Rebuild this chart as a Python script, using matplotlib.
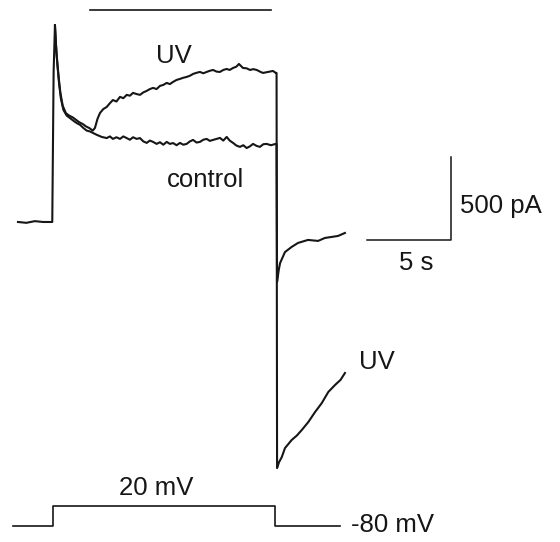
import matplotlib
matplotlib.use("Agg")
import numpy as np
import matplotlib.pyplot as plt

plt.rcParams['font.family'] = ['Liberation Sans', 'DejaVu Sans']

# Current traces (time in s, current in pA)
shared_t = [0.00, 0.50, 1.00, 1.50, 2.04, 2.12, 2.20]
shared_i = [0, -5, 5, 0, 0, 900, 1185]

ctrl_t = [2.28, 2.36, 2.45, 2.55, 2.70, 2.90, 3.10, 3.29, 3.50, 3.69, 3.90, 4.09,
          4.28, 4.48,
          4.68, 4.98, 5.28, 5.47, 5.65, 5.86, 6.07, 6.27, 6.47, 6.66, 6.85, 7.06,
          7.26, 7.46, 7.66, 7.85, 8.04, 8.25, 8.45, 8.65, 8.85, 9.04, 9.23, 9.44,
          9.64, 9.84, 10.04, 10.23, 10.42, 10.63, 10.83, 11.03, 11.23, 11.42, 11.61,
          11.82, 12.02, 12.22, 12.42, 12.60, 12.80, 13.00, 13.21, 13.41, 13.61, 13.80,
          13.99, 14.20, 14.40, 14.60, 14.80, 15.05, 15.34, 15.39,
          15.42, 15.52, 15.60, 15.89, 16.29, 16.67, 17.26, 17.86, 18.27, 18.67,
          19.05, 19.46]
ctrl_i = [1030, 930, 830, 745, 675, 640, 625, 610, 595, 585, 565, 550,
          545, 535,
          525, 512, 505, 515, 500, 510, 500, 515, 505, 495, 510, 500,
          505, 485, 476, 490, 482, 470, 480, 465, 482, 470, 475, 462,
          476, 465, 470, 485, 494, 478, 482, 495, 500, 488, 494,
          500, 506, 490, 512, 490, 476, 460, 452, 462, 445, 455,
          470, 458, 452, 468, 470, 462, 470, 470,
          -361, -289, -247, -181, -150, -126, -108, -114, -96, -90,
          -84, -66]

uv_t = [2.26, 2.33, 2.42, 2.52, 2.66, 2.85, 3.05, 3.25, 3.45, 3.65, 3.85, 4.05,
        4.25, 4.45, 4.58,
        4.73, 4.88, 5.08, 5.28, 5.47, 5.65, 5.86, 6.07, 6.27, 6.47, 6.66,
        6.85, 7.06, 7.26, 7.46, 7.66, 7.85, 8.04, 8.25, 8.45, 8.65, 8.85, 9.04,
        9.23, 9.44, 9.64, 9.84, 10.04, 10.23, 10.42, 10.63, 10.83, 11.03, 11.23,
        11.42, 11.61, 11.82, 12.02, 12.22, 12.42, 12.60, 12.80, 13.00, 13.15, 13.39,
        13.60, 13.81, 14.00, 14.21, 14.40, 14.58, 14.88, 15.18, 15.34, 15.39,
        15.42, 15.54, 15.70, 15.89, 16.29, 16.60, 16.89, 17.28, 17.68, 18.08,
        18.47, 18.87, 19.20, 19.46]
uv_i = [1070, 970, 870, 780, 700, 655, 640, 630, 615, 600, 590, 575,
        565, 550, 566,
        620, 656, 680, 692, 715, 734, 725, 753, 745, 765, 760,
        777, 770, 765, 780, 789, 800, 807, 800, 819, 825, 837, 830,
        843, 855, 861, 868, 873, 880, 891, 898, 903, 895, 903,
        910, 915, 905, 903, 915, 921, 915, 927, 935, 951, 927,
        925, 915, 920, 915, 905, 897, 903, 909, 897, 897,
        -1481, -1445, -1415, -1361, -1312, -1285, -1252, -1204, -1144, -1090,
        -1023, -981, -950, -909]

# Voltage protocol (mV)
volt_t = [-0.30, 2.08, 2.08, 15.30, 15.30, 19.17]
volt_mv = [-80, -80, 20, 20, -80, -80]

# UV illumination bar and scale bars
uv_on, uv_off, uv_level = 4.29, 15.06, 1276
sb_t0, sb_i0 = 20.77, -108
sb_dt, sb_di = 5, 500

ink = '#161616'

fig = plt.figure(figsize=(5.6, 5.42), dpi=100)
ax = fig.add_axes([0, 0, 1, 1])
ax.set_xlim(-1.071, 32.26)
ax.set_ylim(-1926, 1336)
ax.axis('off')

ax.plot(shared_t + ctrl_t, shared_i + ctrl_i, color=ink, lw=1.5, solid_joinstyle='round')
ax.plot(shared_t[-1:] + uv_t, shared_i[-1:] + uv_i, color=ink, lw=1.5, solid_joinstyle='round')

ax.plot([uv_on, uv_off], [uv_level, uv_level], color=ink, lw=1.2)

ax.plot([sb_t0, sb_t0 + sb_dt, sb_t0 + sb_dt], [sb_i0, sb_i0, sb_i0 + sb_di],
        color=ink, lw=1.1)

fs = 18.5
ax.text(9.29, 955, 'UV', fontsize=fs, ha='center', va='baseline', color=ink)
ax.text(11.19, 213, 'control', fontsize=fs, ha='center', va='baseline', color=ink)
ax.text(26.31, 54, '500 pA', fontsize=fs, ha='left', va='baseline', color=ink)
ax.text(23.68, -289, '5 s', fontsize=fs, ha='center', va='baseline', color=ink)
ax.text(21.34, -885, 'UV', fontsize=fs, ha='center', va='baseline', color=ink)

# voltage protocol on its own overlay axes
axv = fig.add_axes([0, 0, 1, 1], sharex=ax)
axv.set_ylim(-160, 2550)
axv.patch.set_alpha(0)
axv.axis('off')
axv.plot(volt_t, volt_mv, color=ink, lw=1.2)
axv.text(8.20, 75, '20 mV', fontsize=fs, ha='center', va='baseline', color=ink)
axv.text(19.80, -110, '-80 mV', fontsize=fs, ha='left', va='baseline', color=ink)

fig.savefig('out.png', dpi=100)
